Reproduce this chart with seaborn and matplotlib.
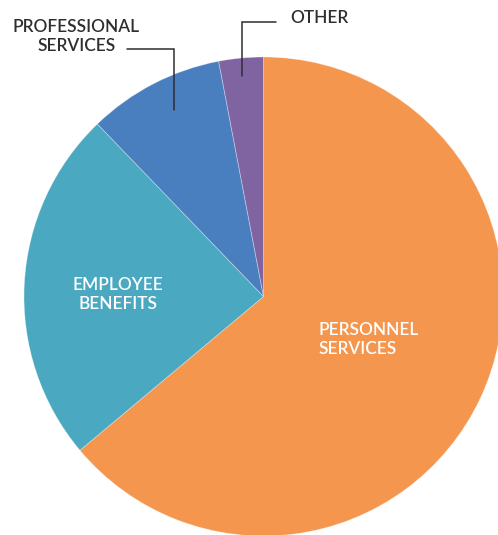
import matplotlib
matplotlib.use("Agg")
import matplotlib.pyplot as plt
import seaborn as sns

# Budget shares by expense category (percent)
categories = ["PERSONNEL\nSERVICES", "EMPLOYEE\nBENEFITS", "PROFESSIONAL\nSERVICES", "OTHER"]
shares = [63.9, 23.9, 9.2, 3.0]
colors = ["#F4964E", "#4AA8C1", "#4A7FBF", "#8064A2"]

sns.set_theme(style="white")
plt.rcParams["font.family"] = ["Lato", "DejaVu Sans"]

W, H = 498, 535
fig = plt.figure(figsize=(W / 100, H / 100), dpi=100)
ax = fig.add_axes([0, 0, 1, 1])

cx, cy, r = 263.5, H - 296.5, 239.5
ax.pie(shares, colors=colors, startangle=90, counterclock=False,
       center=(cx, cy), radius=r,
       wedgeprops=dict(linewidth=0.6, edgecolor=(1, 1, 1, 0.35)))
ax.set_xlim(0, W)
ax.set_ylim(0, H)
ax.set_aspect("equal")
ax.axis("off")

font = dict(fontsize=12.4, fontweight="semibold", linespacing=1.22)

# labels inside the large slices
ax.text(319, H - 339.5, categories[0], color="white", ha="left", va="center", **font)
ax.text(118, H - 294.5, categories[1], color="white", ha="center", va="center", **font)

# labels outside the small slices, with leader lines
dark = "#2E2E2E"
ax.text(76.5, H - 36.5, categories[2], color=dark, ha="center", va="center", **font)
ax.plot([127, 174, 174], [H - 49, H - 49, H - 110], color=dark, lw=1.1,
        solid_joinstyle="miter")
ax.text(290, H - 18, categories[3], color=dark, ha="left", va="center", **font)
ax.plot([276, 242, 242], [H - 22, H - 22, H - 76], color=dark, lw=1.1,
        solid_joinstyle="miter")

fig.savefig("out.png", dpi=100)
